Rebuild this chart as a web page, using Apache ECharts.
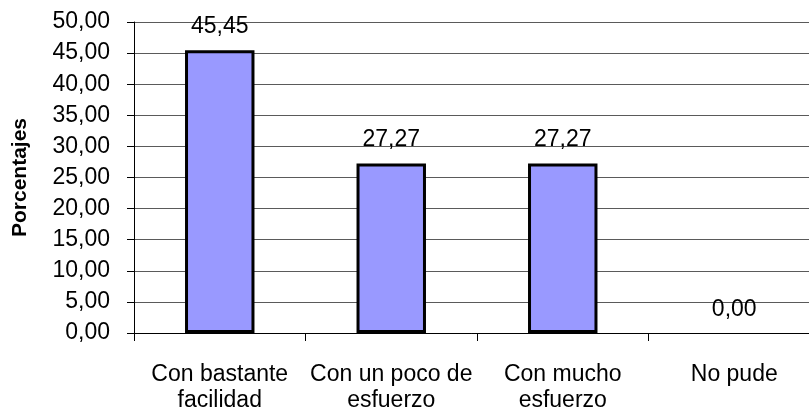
<!DOCTYPE html>
<html>
<head>
<meta charset="utf-8">
<script src="https://cdn.jsdelivr.net/npm/echarts@6/dist/echarts.min.js"></script>
<style>
  html, body { margin: 0; padding: 0; background: #ffffff; }
  #chart { width: 809px; height: 409px; }
</style>
</head>
<body>
<div id="chart"></div>
<script>
// Answer categories and their percentages
const categories = ['Con bastante\nfacilidad', 'Con un poco de\nesfuerzo', 'Con mucho\nesfuerzo', 'No pude'];
const percentages = [45.45, 27.27, 27.27, 0.00];
const yTicks = { min: 0, max: 50, interval: 5 };

const fmt = v => Number(v).toFixed(2).replace('.', ',');
const FONT = '"Liberation Sans", Arial, sans-serif';

// A zero-height bar draws no outline
const barData = percentages.map(v => v === 0
  ? { value: v, itemStyle: { borderWidth: 0 } }
  : { value: v });

const chart = echarts.init(document.getElementById('chart'), null, { renderer: 'canvas' });
chart.setOption({
  animation: false,
  backgroundColor: '#ffffff',
  // plot area runs past the right edge of the canvas
  grid: {
    left: 134, top: 22, width: 686, height: 311,
    containLabel: false, outerBoundsMode: 'none'
  },
  xAxis: {
    type: 'category',
    data: categories,
    boundaryGap: true,
    axisLine: { show: true, lineStyle: { color: '#000000', width: 1 } },
    axisTick: { show: true, length: 8, lineStyle: { color: '#000000' } },
    axisLabel: {
      color: '#000000', fontFamily: FONT, fontSize: 23, lineHeight: 26,
      margin: 29, interval: 0
    },
    splitLine: { show: false }
  },
  yAxis: {
    type: 'value',
    min: yTicks.min, max: yTicks.max, interval: yTicks.interval,
    name: 'Porcentajes',
    nameLocation: 'middle',
    nameGap: 103,
    nameRotate: 90,
    nameTextStyle: { color: '#000000', fontFamily: FONT, fontSize: 21, fontWeight: 'bold' },
    axisLine: { show: true, lineStyle: { color: '#000000', width: 1 } },
    axisTick: { show: true, inside: false, length: 7, lineStyle: { color: '#000000' } },
    axisLabel: {
      color: '#000000', fontFamily: FONT, fontSize: 23, margin: 24,
      formatter: v => fmt(v)
    },
    splitLine: { show: true, lineStyle: { color: '#5a5a5a', width: 1 } }
  },
  series: [{
    type: 'bar',
    data: barData,
    barWidth: '40.5%',
    itemStyle: { color: '#9999FF', borderColor: '#000000', borderWidth: 3 },
    label: {
      show: true, position: 'top', distance: 12,
      color: '#000000', fontFamily: FONT, fontSize: 23,
      formatter: p => fmt(p.value)
    }
  }]
});
</script>
</body>
</html>
